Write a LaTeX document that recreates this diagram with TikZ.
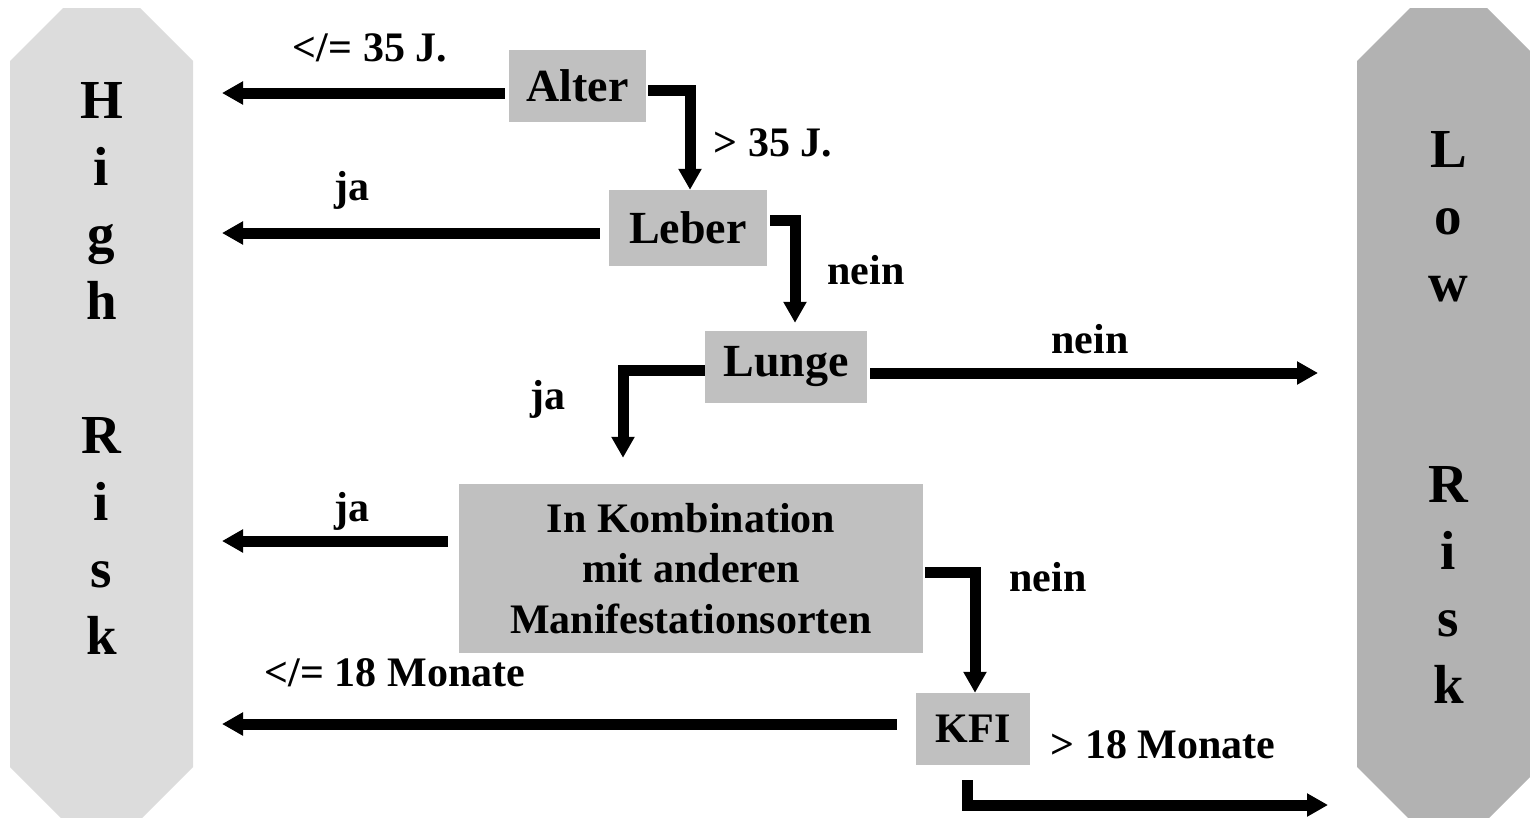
\documentclass[tikz,border=0pt]{standalone}
\usepackage{fontspec}
\setmainfont{Liberation Serif}
\usetikzlibrary{arrows.meta,calc}
\definecolor{hiGray}{RGB}{220,220,220}
\definecolor{loGray}{RGB}{178,178,178}
\definecolor{boxGray}{RGB}{192,192,192}
\begin{document}
\begin{tikzpicture}[x=1pt,y=-1pt,
  box/.style={fill=boxGray, inner sep=0pt, align=center, font=\fontsize{46}{50}\selectfont\bfseries},
  lbl/.style={inner sep=0pt, font=\fontsize{42}{46}\selectfont\bfseries},
  conn/.style={line width=11pt, line join=miter, -{Triangle[width=22pt,length=21pt]}},
  risk/.style={inner sep=0pt, align=center, font=\fontsize{55}{67}\selectfont\bfseries}]
\useasboundingbox (0,0) rectangle (1530,817);
% side panels
\fill[hiGray] (10,61) -- (63,8) -- (140,8) -- (193,61) -- (193,767) -- (140,820) -- (63,820) -- (10,767) -- cycle;
\fill[loGray] (1357,61) -- (1410,8) -- (1487,8) -- (1540,61) -- (1540,767) -- (1487,820) -- (1410,820) -- (1357,767) -- cycle;
\node[risk] (high) at (101.5,368) {H\\i\\g\\h\\[67pt]R\\i\\s\\k};
\node[risk] (low) at (1448.5,417) {L\\o\\w\\[134pt]R\\i\\s\\k};
% boxes
\node[box, minimum width=137pt, minimum height=72pt] (alter) at (577.5,86) {Alter};
\node[box, minimum width=158pt, minimum height=76pt] (leber) at (688,228) {Leber};
\node[box, minimum width=162pt, minimum height=72pt] (lunge) at (786,367) {Lunge};
\node[box, minimum width=464pt, minimum height=169pt, font=\fontsize{42}{50.5}\selectfont\bfseries] (komb) at (691,568.5) {In Kombination\\mit anderen\\Manifestationsorten};
\node[box, minimum width=114pt, minimum height=72pt, font=\fontsize{42}{46}\selectfont\bfseries] (kfi) at (973,729) {KFI};
% free ends
\coordinate (h1) at (222,93);
\coordinate (h2) at (222,233);
\coordinate (h3) at (222,541);
\coordinate (h4) at (222,724);
\coordinate (l1) at (1318,373);
\coordinate (l2) at (1328,805);
% connectors
\draw[conn] ($(alter.west)+(-4,7)$) -- (h1);
\draw[conn] ($(alter.east)+(2,4)$) -| ($(leber.north)+(2,0)$);
\draw[conn] ($(leber.west)+(-9,5)$) -- (h2);
\draw[conn] ($(leber.east)+(3,-8)$) -| ($(lunge.north)+(9,-8)$);
\draw[conn] ($(lunge.east)+(3,6)$) -- (l1);
\draw[conn] ($(lunge.west)+(0,3)$) -| ($(komb.north)+(-68,-26)$);
\draw[conn] ($(komb.west)+(-11,-27.5)$) -- (h3);
\draw[conn] ($(komb.east)+(2,3.5)$) -| ($(kfi.north)+(2,0)$);
\draw[conn] ($(kfi.west)+(-19,-5)$) -- (h4);
\draw[conn] ($(kfi.south)+(-6,15)$) |- (l2);
% labels
\node[lbl] (a1) at (370,48) {</= 35 J.};
\node[lbl] (a2) at (773,143) {> 35 J.};
\node[lbl] (b1) at (352,190) {ja};
\node[lbl] (b2) at (866,270) {nein};
\node[lbl] (c1) at (1090,339) {nein};
\node[lbl] (c2) at (548,399) {ja};
\node[lbl] (d1) at (352,511) {ja};
\node[lbl] (d2) at (1048,577) {nein};
\node[lbl] (e1) at (395,673) {</= 18 Monate};
\node[lbl] (e2) at (1163,745) {> 18 Monate};
\end{tikzpicture}
\end{document}
